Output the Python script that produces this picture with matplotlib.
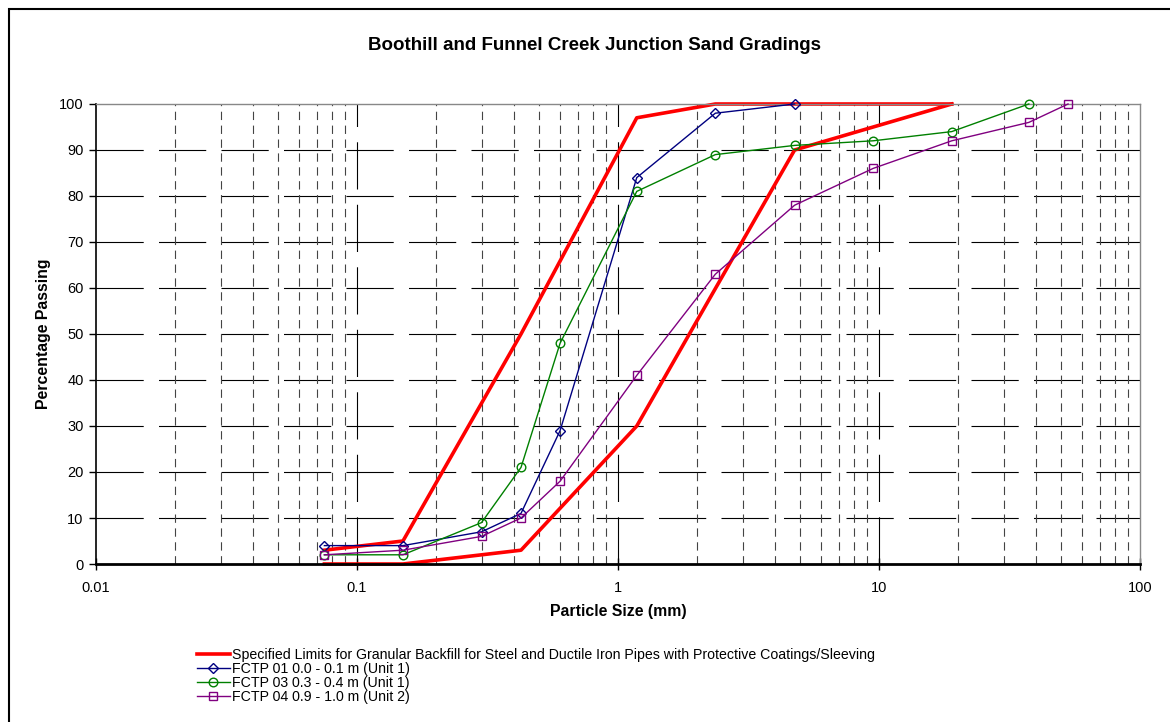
import numpy as np
import matplotlib
matplotlib.use("Agg")
import matplotlib.pyplot as plt
from matplotlib.patches import Rectangle

plt.rcParams['font.family'] = ['Liberation Sans', 'DejaVu Sans']
plt.rcParams['lines.scale_dashes'] = False

# sieve sizes (mm) and percent passing
upper_size = [0.075, 0.15, 0.425, 1.18, 2.36, 19]
upper_pass = [3, 5, 50, 97, 100, 100]
lower_size = [0.075, 0.15, 0.425, 1.18, 4.75, 19]
lower_pass = [0, 0, 3, 30, 90, 100]

fctp01_size = [0.075, 0.15, 0.3, 0.425, 0.6, 1.18, 2.36, 4.75]
fctp01_pass = [4, 4, 7, 11, 29, 84, 98, 100]

fctp03_size = [0.075, 0.15, 0.3, 0.425, 0.6, 1.18, 2.36, 4.75, 9.5, 19, 37.5]
fctp03_pass = [2, 2, 9, 21, 48, 81, 89, 91, 92, 94, 100]

fctp04_size = [0.075, 0.15, 0.3, 0.425, 0.6, 1.18, 2.36, 4.75, 9.5, 19, 37.5, 53]
fctp04_pass = [2, 3, 6, 10, 18, 41, 63, 78, 86, 92, 96, 100]

limits_label = ("Specified Limits for Granular Backfill for Steel and Ductile "
                "Iron Pipes with Protective Coatings/Sleeving")
labels = ["FCTP 01 0.0 - 0.1 m (Unit 1)",
          "FCTP 03 0.3 - 0.4 m (Unit 1)",
          "FCTP 04 0.9 - 1.0 m (Unit 2)"]

W, H = 1170, 722
fig = plt.figure(figsize=(W / 100, H / 100), dpi=100)
ax = fig.add_axes([96 / W, 1 - 564 / H, (1140 - 96) / W, (564 - 104) / H])

# outer chart frame
fig.patches.append(Rectangle((9 / W, -0.05), 1.2, 1 - 9 / H + 0.05,
                             transform=fig.transFigure, fill=False,
                             edgecolor='black', linewidth=1.5))

ax.set_xscale('log')
ax.set_xlim(0.01, 100)
ax.set_ylim(0, 100)

# gridlines
for v in [10, 20, 30, 40, 50, 60, 70, 80, 90]:
    ax.axhline(v, color='black', lw=0.8, dashes=(34, 11), zorder=0)
for v in [0.1, 1, 10]:
    ax.axvline(v, color='black', lw=0.8, dashes=(34, 11), zorder=0)
for dec in [0.01, 0.1, 1, 10]:
    for k in range(2, 10):
        ax.axvline(dec * k, color='#444444', lw=0.8, dashes=(6, 4), zorder=0)

ax.plot(upper_size, upper_pass, color='#FF0000', lw=2.6, label=limits_label,
        zorder=2, clip_on=False)
ax.plot(lower_size, lower_pass, color='#FF0000', lw=2.6, zorder=2, clip_on=False)
ax.plot(fctp01_size, fctp01_pass, color='#000080', lw=1.0, marker='D', ms=5.5,
        mfc='none', mec='#000080', mew=1.0, label=labels[0], zorder=3, clip_on=False)
ax.plot(fctp03_size, fctp03_pass, color='#008000', lw=1.0, marker='o', ms=6.2,
        mfc='none', mec='#008000', mew=1.0, label=labels[1], zorder=3, clip_on=False)
ax.plot(fctp04_size, fctp04_pass, color='#800080', lw=1.0, marker='s', ms=6,
        mfc='none', mec='#800080', mew=1.0, label=labels[2], zorder=3, clip_on=False)

ax.set_yticks(range(0, 101, 10))
ax.set_xticks([0.01, 0.1, 1, 10, 100])
ax.set_xticklabels(['0.01', '0.1', '1', '10', '100'])
ax.xaxis.set_minor_locator(matplotlib.ticker.NullLocator())
ax.tick_params(axis='y', direction='out', length=5, width=1, labelsize=10.5, pad=4)
ax.tick_params(axis='x', direction='inout', length=8, width=1, labelsize=10.5, pad=8)

for s in ['top', 'right']:
    ax.spines[s].set_color('#888888')
    ax.spines[s].set_linewidth(1)
ax.spines['left'].set_linewidth(1.2)
ax.spines['bottom'].set_linewidth(2)

ax.set_xlabel('Particle Size (mm)', fontsize=11.4, fontweight='bold', labelpad=7)
ax.set_ylabel('Percentage Passing', fontsize=11.4, fontweight='bold', labelpad=6)
fig.text(595 / W, 1 - 45 / H, 'Boothill and Funnel Creek Junction Sand Gradings',
         ha='center', va='center', fontsize=13.5, fontweight='bold')

fig.legend(loc='upper left', bbox_to_anchor=(197 / W, 1 - 648 / H),
           frameon=False, fontsize=10.2, handlelength=2.3, handletextpad=0.2,
           labelspacing=0.0, borderpad=0, borderaxespad=0)

fig.savefig('out.png', dpi=100)
